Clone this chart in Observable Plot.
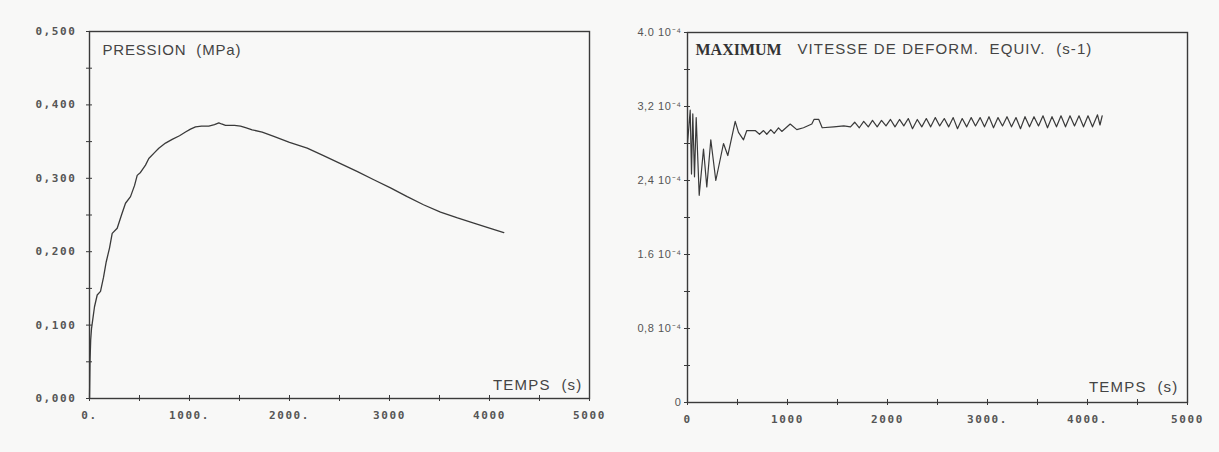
<!DOCTYPE html>
<html><head><meta charset="utf-8">
<script src="https://cdn.jsdelivr.net/npm/d3@7"></script>
<script src="https://cdn.jsdelivr.net/npm/@observablehq/plot@0.6"></script>
<style>
body{margin:0;background:#f8f8f7;}
#wrap{position:relative;width:1219px;height:452px;overflow:hidden;}
#left{position:absolute;left:0;top:0;}
#right{position:absolute;left:600px;top:0;}
svg{overflow:visible;}
#left g[aria-label="x-axis tick label"] text,
#left g[aria-label="y-axis tick label"] text,
#right g[aria-label="x-axis tick label"] text{letter-spacing:1.6px;font-weight:bold;font-size:11px;font-family:"DejaVu Sans Mono",monospace;}
#right g[aria-label="y-axis tick label"] text{letter-spacing:0.6px;font-size:11px;font-family:"Liberation Sans",Arial,sans-serif;}
</style></head><body>
<div id="wrap"><div id="left"></div><div id="right"></div></div>
<script>
// ---- Left panel: PRESSION (MPa) vs TEMPS (s)
const pressureTime = [0, 5, 12, 20, 27, 50, 77, 110, 140, 167, 200, 227, 277, 320, 360, 410, 450, 477, 510, 560, 593, 650, 693, 760, 827, 900, 960, 1010, 1060, 1120, 1193, 1250, 1293, 1320, 1360, 1450, 1510, 1560, 1627, 1727, 1843, 2000, 2177, 2340, 2510, 2680, 2843, 3010, 3177, 3340, 3510, 3680, 3843, 4000, 4143];
const pressure     = [0, 0.05, 0.08, 0.095, 0.102, 0.125, 0.141, 0.146, 0.165, 0.186, 0.205, 0.225, 0.232, 0.250, 0.266, 0.275, 0.290, 0.304, 0.308, 0.318, 0.327, 0.335, 0.341, 0.348, 0.353, 0.358, 0.363, 0.367, 0.370, 0.371, 0.371, 0.373, 0.3756, 0.374, 0.372, 0.372, 0.371, 0.369, 0.366, 0.363, 0.357, 0.349, 0.341, 0.331, 0.320, 0.309, 0.298, 0.287, 0.275, 0.264, 0.254, 0.246, 0.239, 0.232, 0.226];
const leftXTicks = [0, 1000, 2000, 3000, 4000, 5000];
const leftXLabels = ["0.", "1000.", "2000.", "3000", "4000", "5000"];
const leftXMinor = [500, 1500, 2500, 3500, 4500];
const leftYTicks = [0, 0.1, 0.2, 0.3, 0.4, 0.5];
const leftYLabels = ["0,000", "0,100", "0,200", "0,300", "0,400", "0,500"];
const leftYMinor = [0.05, 0.15, 0.25, 0.35, 0.45];
const leftTitle = "PRESSION  (MPa)";
const xTitle = "TEMPS  (s)";

// ---- Right panel: MAXIMUM VITESSE DE DEFORM. EQUIV. (s-1), values in units of 1e-4
const rateTime = [0, 15, 27, 40, 53, 70, 87, 117, 160, 193, 233, 283, 360, 403, 477, 510, 560, 593, 677, 720, 760, 793, 833, 867, 910, 943, 1027, 1093, 1160, 1243, 1265, 1313, 1347, 1463, 1563,
  1630, 1672, 1718, 1762, 1808, 1850, 1897, 1940, 1985, 2030, 2075, 2120, 2163, 2208, 2250, 2298, 2343, 2388, 2432, 2478, 2522, 2568, 2612, 2657, 2700, 2747, 2792, 2837, 2880, 2926, 2970, 3015, 3060, 3105, 3150, 3195, 3240, 3285, 3330, 3375, 3420, 3465, 3510, 3555, 3600, 3645, 3690, 3735, 3780, 3825, 3870, 3915, 3960, 4005, 4050, 4100, 4125, 4147];
const rate     = [2.80, 3.00, 3.16, 2.47, 3.12, 2.44, 3.08, 2.24, 2.74, 2.33, 2.84, 2.40, 2.80, 2.67, 3.04, 2.92, 2.84, 2.94, 2.94, 2.90, 2.94, 2.90, 2.95, 2.91, 2.97, 2.93, 3.01, 2.95, 2.97, 3.01, 3.06, 3.06, 2.97, 2.98, 2.99,
  2.98, 3.03, 2.97, 3.04, 2.98, 3.05, 2.98, 3.05, 2.99, 3.06, 2.98, 3.06, 2.99, 3.07, 2.96, 3.06, 2.98, 3.07, 2.98, 3.08, 2.99, 3.07, 2.98, 3.08, 2.96, 3.07, 2.98, 3.08, 2.99, 3.08, 2.98, 3.09, 2.97, 3.08, 2.99, 3.09, 2.98, 3.08, 2.96, 3.09, 2.98, 3.09, 2.99, 3.10, 2.97, 3.09, 2.98, 3.10, 2.98, 3.10, 2.99, 3.10, 2.98, 3.10, 2.98, 3.11, 3.00, 3.10];
const rightXTicks = [0, 1000, 2000, 3000, 4000, 5000];
const rightXLabels = ["0", "1000", "2000", "3000.", "4000.", "5000"];
const rightXMinor = [500, 1500, 2500, 3500, 4500];
const rightYTicks = [0, 0.8, 1.6, 2.4, 3.2, 4.0];
const rightYLabels = ["0", "0,8 10⁻⁴", "1.6 10⁻⁴", "2,4 10⁻⁴", "3,2 10⁻⁴", "4.0 10⁻⁴"];
const rightYMinor = [0.4, 1.2, 2.0, 2.8, 3.6];
const rightTitleBold = "MAXIMUM";
const rightTitle = "VITESSE DE DEFORM.  EQUIV.  (s-1)";

const ink = "#3a3a3a";
const labelColor = "#555";
const sans = "Liberation Sans, Arial, sans-serif";

const leftData = pressureTime.map((t, i) => ({t, p: pressure[i]}));
const rightData = rateTime.map((t, i) => ({t, v: rate[i]}));

function tickAxes(xMinor, xMajor, yMinor, yMajor) {
  return [
    Plot.axisX({ticks: xMinor.concat(xMajor), tickSize: 6, dy: -3, tickFormat: () => "", label: null, stroke: ink}),
    Plot.axisY({ticks: yMinor.concat(yMajor), tickSize: 6, dx: 3, tickFormat: () => "", label: null, stroke: ink})
  ];
}

const left = Plot.plot({
  width: 619, height: 452,
  marginLeft: 89, marginRight: 30, marginTop: 31, marginBottom: 54,
  style: {background: "transparent", fontFamily: "DejaVu Sans Mono, monospace", fontSize: "10px", color: labelColor, overflow: "visible"},
  x: {domain: [0, 5000]},
  y: {domain: [0, 0.5]},
  marks: [
    Plot.frame({stroke: ink, strokeWidth: 1.4}),
    ...tickAxes(leftXMinor, leftXTicks, leftYMinor, leftYTicks),
    Plot.axisX({ticks: leftXTicks, tickSize: 0, tickPadding: 13, tickFormat: (d, i) => leftXLabels[i], label: null, fill: labelColor}),
    Plot.axisY({ticks: leftYTicks, tickSize: 0, tickPadding: 13, tickFormat: (d, i) => leftYLabels[i], label: null, fill: labelColor}),
    Plot.line(leftData, {x: "t", y: "p", stroke: ink, strokeWidth: 1.3}),
    Plot.text([leftTitle], {frameAnchor: "top-left", dx: 13, dy: 19, textAnchor: "start", lineAnchor: "middle", fill: "#444", fontSize: 15, fontFamily: sans}),
    Plot.text([xTitle], {frameAnchor: "bottom-right", dx: -7, dy: -13, textAnchor: "end", lineAnchor: "middle", fill: "#444", fontSize: 15, fontFamily: sans})
  ]
});
document.getElementById("left").append(left);

const right = Plot.plot({
  width: 619, height: 452,
  marginLeft: 87, marginRight: 32, marginTop: 32, marginBottom: 50,
  style: {background: "transparent", fontFamily: "DejaVu Sans Mono, monospace", fontSize: "10px", color: labelColor, overflow: "visible"},
  x: {domain: [0, 5000]},
  y: {domain: [0, 4]},
  marks: [
    Plot.frame({stroke: ink, strokeWidth: 1.4}),
    ...tickAxes(rightXMinor, rightXTicks, rightYMinor, rightYTicks),
    Plot.axisX({ticks: rightXTicks, tickSize: 0, tickPadding: 13, tickFormat: (d, i) => rightXLabels[i], label: null, fill: labelColor}),
    Plot.axisY({ticks: rightYTicks, tickSize: 0, tickPadding: 6, tickFormat: (d, i) => rightYLabels[i], label: null, fill: labelColor}),
    Plot.line(rightData, {x: "t", y: "v", stroke: ink, strokeWidth: 1.2}),
    Plot.text([rightTitleBold], {frameAnchor: "top-left", dx: 8, dy: 17, textAnchor: "start", lineAnchor: "middle", fill: "#333", fontSize: 16, fontWeight: "bold", fontFamily: "Liberation Serif, Times New Roman, serif"}),
    Plot.text([rightTitle], {frameAnchor: "top-left", dx: 110, dy: 17, textAnchor: "start", lineAnchor: "middle", fill: "#444", fontSize: 15, fontFamily: sans}),
    Plot.text([xTitle], {frameAnchor: "bottom-right", dx: -9, dy: -15, textAnchor: "end", lineAnchor: "middle", fill: "#444", fontSize: 15, fontFamily: sans})
  ]
});
document.getElementById("right").append(right);

// letter spacing for the typed titles, as in the scanned plot
const spacing = new Map([[leftTitle, "0.8px"], [xTitle, "1.2px"], [rightTitle, "1.1px"]]);
d3.selectAll("svg text").each(function() {
  const s = spacing.get(this.textContent);
  if (s) d3.select(this).style("letter-spacing", s).style("white-space", "pre");
});
</script>
</body></html>
